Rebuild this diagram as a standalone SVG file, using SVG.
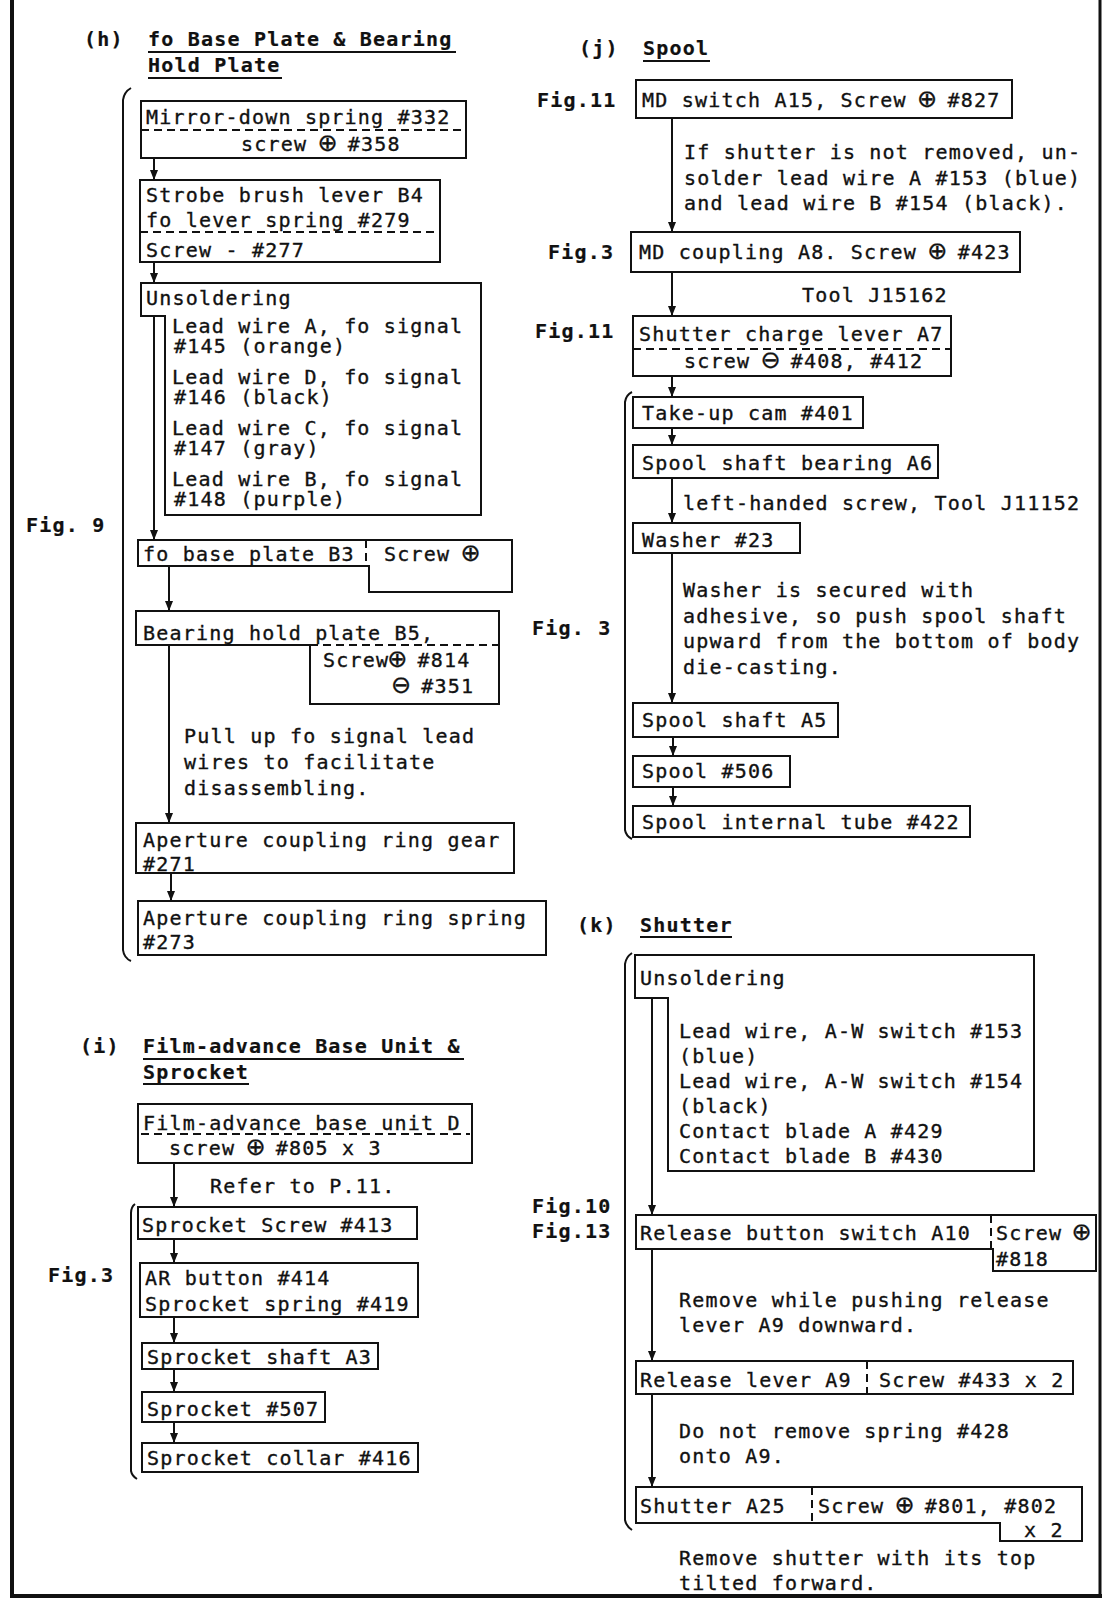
<svg xmlns="http://www.w3.org/2000/svg" width="1110" height="1605" viewBox="0 0 1110 1605">
<defs>
<style>
.t{font-family:"DejaVu Sans Mono","Liberation Mono",monospace;font-size:20px;letter-spacing:1.2px;fill:#111;stroke:#111;stroke-width:0.35}
.b{font-weight:bold;stroke-width:0.2}
.s{font-family:"DejaVu Sans","Liberation Sans",sans-serif;font-size:24px;letter-spacing:0}
.box{fill:none;stroke:#111;stroke-width:2}
.dash{fill:none;stroke:#111;stroke-width:2;stroke-dasharray:8 5}
.ul{stroke:#111;stroke-width:2}
.br{fill:none;stroke:#111;stroke-width:2}
#conn line{stroke:#111;stroke-width:2;marker-end:url(#ah)}
</style>
<marker id="ah" markerUnits="userSpaceOnUse" markerWidth="10" markerHeight="12" refX="10" refY="4" orient="auto">
<path d="M0,0 L10,4 L0,8 Z" fill="#111"/>
</marker>
</defs>
<rect x="0" y="0" width="1110" height="1605" fill="#fff"/>
<g id="border">
<line x1="12" y1="0" x2="12" y2="1598" stroke="#111" stroke-width="4"/>
<line x1="1100" y1="0" x2="1100" y2="1598" stroke="#111" stroke-width="3"/>
<line x1="10" y1="1596" x2="1102" y2="1596" stroke="#111" stroke-width="4"/>
</g>

<g id="titles">
<text class="t b" x="84" y="46">(h)</text>
<text class="t b" x="148" y="46">fo Base Plate &amp; Bearing</text>
<line class="ul" x1="148" y1="52" x2="456" y2="52"/>
<text class="t b" x="148" y="72">Hold Plate</text>
<line class="ul" x1="148" y1="78" x2="282" y2="78"/>
<text class="t b" x="26" y="532">Fig. 9</text>

<text class="t b" x="80" y="1053">(i)</text>
<text class="t b" x="143" y="1053">Film-advance Base Unit &amp;</text>
<line class="ul" x1="143" y1="1059" x2="464" y2="1059"/>
<text class="t b" x="143" y="1079">Sprocket</text>
<line class="ul" x1="143" y1="1084" x2="249" y2="1084"/>
<text class="t b" x="48" y="1282">Fig.3</text>

<text class="t b" x="579" y="55">(j)</text>
<text class="t b" x="643" y="55">Spool</text>
<line class="ul" x1="643" y1="61" x2="710" y2="61"/>
<text class="t b" x="537" y="107">Fig.11</text>
<text class="t b" x="548" y="259">Fig.3</text>
<text class="t b" x="535" y="338">Fig.11</text>
<text class="t b" x="532" y="635">Fig. 3</text>

<text class="t b" x="577" y="932">(k)</text>
<text class="t b" x="640" y="932">Shutter</text>
<line class="ul" x1="640" y1="937" x2="732" y2="937"/>
<text class="t b" x="532" y="1213">Fig.10</text>
<text class="t b" x="532" y="1238">Fig.13</text>
</g>

<g id="brackets">
<path class="br" d="M131,88 Q124,92 123,100 V950 Q124,958 131,961"/>
<path class="br" d="M135,1204 Q131,1207 131,1213 V1471 Q132,1476 137,1479"/>
<path class="br" d="M632,392 Q626,395 625,402 V830 Q626,836 632,839"/>
<path class="br" d="M632,953 Q626,957 625,964 V1520 Q626,1526 632,1530"/>
</g>

<g id="conn">
<line x1="154" y1="158" x2="154" y2="180"/>
<line x1="154" y1="262" x2="154" y2="283"/>
<line x1="154" y1="316" x2="154" y2="540"/>
<line x1="169" y1="566" x2="169" y2="611"/>
<line x1="169" y1="645" x2="169" y2="823"/>
<line x1="171" y1="873" x2="171" y2="901"/>
<line x1="174" y1="1163" x2="174" y2="1207"/>
<line x1="174" y1="1239" x2="174" y2="1263"/>
<line x1="174" y1="1317" x2="174" y2="1343"/>
<line x1="174" y1="1369" x2="174" y2="1392"/>
<line x1="174" y1="1422" x2="174" y2="1443"/>
<line x1="672" y1="118" x2="672" y2="232"/>
<line x1="672" y1="272" x2="672" y2="316"/>
<line x1="672" y1="376" x2="672" y2="397"/>
<line x1="672" y1="428" x2="672" y2="445"/>
<line x1="672" y1="478" x2="672" y2="523"/>
<line x1="672" y1="553" x2="672" y2="703"/>
<line x1="673" y1="737" x2="673" y2="756"/>
<line x1="673" y1="787" x2="673" y2="806"/>
<line x1="652" y1="998" x2="652" y2="1215"/>
<line x1="652" y1="1249" x2="652" y2="1361"/>
<line x1="652" y1="1394" x2="652" y2="1487"/>
</g>

<g id="notes">
<text class="t" x="184" y="743">Pull up fo signal lead</text>
<text class="t" x="184" y="769">wires to facilitate</text>
<text class="t" x="184" y="795">disassembling.</text>
<text class="t" x="210" y="1193">Refer to P.11.</text>
<text class="t" x="684" y="159">If shutter is not removed, un-</text>
<text class="t" x="684" y="185">solder lead wire A #153 (blue)</text>
<text class="t" x="684" y="210">and lead wire B #154 (black).</text>
<text class="t" x="802" y="302">Tool J15162</text>
<text class="t" x="683" y="510">left-handed screw, Tool J11152</text>
<text class="t" x="683" y="597">Washer is secured with</text>
<text class="t" x="683" y="623">adhesive, so push spool shaft</text>
<text class="t" x="683" y="648">upward from the bottom of body</text>
<text class="t" x="683" y="674">die-casting.</text>
<text class="t" x="679" y="1307">Remove while pushing release</text>
<text class="t" x="679" y="1332">lever A9 downward.</text>
<text class="t" x="679" y="1438">Do not remove spring #428</text>
<text class="t" x="679" y="1463">onto A9.</text>
<text class="t" x="679" y="1565">Remove shutter with its top</text>
<text class="t" x="679" y="1590">tilted forward.</text>
</g>

<g id="h-mirror">
<rect class="box" x="141" y="101" width="325" height="57"/>
<line class="dash" x1="141" y1="130" x2="466" y2="130"/>
<text class="t" x="146" y="124">Mirror-down spring #332</text>
<text class="t" x="241" y="151">screw <tspan class="s" dx="-3">⊕</tspan><tspan dx="-3"> #358</tspan></text>
</g>
<g id="h-strobe">
<rect class="box" x="140" y="180" width="300" height="82"/>
<line class="dash" x1="140" y1="232" x2="440" y2="232"/>
<text class="t" x="146" y="202">Strobe brush lever B4</text>
<text class="t" x="146" y="227">fo lever spring #279</text>
<text class="t" x="146" y="257">Screw - #277</text>
</g>
<g id="h-unsolder">
<path class="box" d="M141,283 H481 V515 H165 V316 H141 Z"/>
<text class="t" x="146" y="305">Unsoldering</text>
<text class="t" x="172" y="333">Lead wire A, fo signal</text>
<text class="t" x="174" y="353">#145 (orange)</text>
<text class="t" x="172" y="384">Lead wire D, fo signal</text>
<text class="t" x="174" y="404">#146 (black)</text>
<text class="t" x="172" y="435">Lead wire C, fo signal</text>
<text class="t" x="174" y="455">#147 (gray)</text>
<text class="t" x="172" y="486">Lead wire B, fo signal</text>
<text class="t" x="174" y="506">#148 (purple)</text>
</g>
<g id="h-fobase">
<path class="box" d="M138,540 H512 V592 H369 V566 H138 Z"/>
<line class="dash" x1="366" y1="540" x2="366" y2="566"/>
<text class="t" x="143" y="561">fo base plate B3</text>
<text class="t" x="384" y="561">Screw <tspan class="s" dx="-3">⊕</tspan></text>
</g>
<g id="h-bearing">
<path class="box" d="M136,611 H499 V704 H310 V645 H136 Z"/>
<line class="dash" x1="310" y1="645" x2="499" y2="645"/>
<text class="t" x="143" y="640">Bearing hold plate B5,</text>
<text class="t" x="323" y="667">Screw<tspan class="s" dx="-2">⊕</tspan><tspan dx="-3"> #814</tspan></text>
<text class="t" x="391" y="693"><tspan class="s">⊖</tspan><tspan dx="-3"> #351</tspan></text>
</g>
<g id="h-gear">
<rect class="box" x="136" y="823" width="378" height="50"/>
<text class="t" x="143" y="847">Aperture coupling ring gear</text>
<text class="t" x="143" y="871">#271</text>
</g>
<g id="h-spring">
<rect class="box" x="138" y="901" width="408" height="54"/>
<text class="t" x="143" y="925">Aperture coupling ring spring</text>
<text class="t" x="143" y="949">#273</text>
</g>

<g id="i-base">
<rect class="box" x="138" y="1104" width="334" height="59"/>
<line class="dash" x1="141" y1="1134" x2="470" y2="1134"/>
<text class="t" x="143" y="1130">Film-advance base unit D</text>
<text class="t" x="169" y="1155">screw <tspan class="s" dx="-3">⊕</tspan><tspan dx="-3"> #805 x 3</tspan></text>
</g>
<g id="i-screw">
<rect class="box" x="138" y="1207" width="279" height="32"/>
<text class="t" x="142" y="1232">Sprocket Screw #413</text>
</g>
<g id="i-ar">
<rect class="box" x="140" y="1263" width="278" height="54"/>
<text class="t" x="145" y="1285">AR button #414</text>
<text class="t" x="145" y="1311">Sprocket spring #419</text>
</g>
<g id="i-shaft">
<rect class="box" x="142" y="1343" width="236" height="26"/>
<text class="t" x="147" y="1364">Sprocket shaft A3</text>
</g>
<g id="i-sprocket">
<rect class="box" x="142" y="1392" width="183" height="30"/>
<text class="t" x="147" y="1416">Sprocket #507</text>
</g>
<g id="i-collar">
<rect class="box" x="142" y="1443" width="276" height="29"/>
<text class="t" x="147" y="1465">Sprocket collar #416</text>
</g>

<g id="j-md">
<rect class="box" x="636" y="80" width="376" height="38"/>
<text class="t" x="642" y="107">MD switch A15, Screw <tspan class="s" dx="-3">⊕</tspan><tspan dx="-3"> #827</tspan></text>
</g>
<g id="j-coupling">
<rect class="box" x="631" y="232" width="389" height="40"/>
<text class="t" x="639" y="259">MD coupling A8. Screw <tspan class="s" dx="-3">⊕</tspan><tspan dx="-3"> #423</tspan></text>
</g>
<g id="j-charge">
<rect class="box" x="633" y="316" width="318" height="60"/>
<line class="dash" x1="633" y1="349" x2="951" y2="349"/>
<text class="t" x="639" y="341">Shutter charge lever A7</text>
<text class="t" x="684" y="368">screw <tspan class="s" dx="-3">⊖</tspan><tspan dx="-3"> #408, #412</tspan></text>
</g>
<g id="j-cam">
<rect class="box" x="633" y="397" width="230" height="31"/>
<text class="t" x="642" y="420">Take-up cam #401</text>
</g>
<g id="j-bearing">
<rect class="box" x="633" y="445" width="305" height="33"/>
<text class="t" x="642" y="470">Spool shaft bearing A6</text>
</g>
<g id="j-washer">
<rect class="box" x="633" y="523" width="167" height="30"/>
<text class="t" x="642" y="547">Washer #23</text>
</g>
<g id="j-shaft">
<rect class="box" x="633" y="703" width="205" height="34"/>
<text class="t" x="642" y="727">Spool shaft A5</text>
</g>
<g id="j-spool">
<rect class="box" x="633" y="756" width="157" height="31"/>
<text class="t" x="642" y="778">Spool #506</text>
</g>
<g id="j-tube">
<rect class="box" x="633" y="806" width="337" height="31"/>
<text class="t" x="642" y="829">Spool internal tube #422</text>
</g>

<g id="k-unsolder">
<path class="box" d="M635,955 H1034 V1171 H668 V998 H635 Z"/>
<text class="t" x="640" y="985">Unsoldering</text>
<text class="t" x="679" y="1038">Lead wire, A-W switch #153</text>
<text class="t" x="679" y="1063">(blue)</text>
<text class="t" x="679" y="1088">Lead wire, A-W switch #154</text>
<text class="t" x="679" y="1113">(black)</text>
<text class="t" x="679" y="1138">Contact blade A #429</text>
<text class="t" x="679" y="1163">Contact blade B #430</text>
</g>
<g id="k-switch">
<path class="box" d="M636,1215 H1096 V1271 H993 V1249 H636 Z"/>
<line class="dash" x1="991" y1="1215" x2="991" y2="1249"/>
<text class="t" x="640" y="1240">Release button switch A10</text>
<text class="t" x="996" y="1240">Screw <tspan class="s" dx="-4">⊕</tspan></text>
<text class="t" x="996" y="1266">#818</text>
</g>
<g id="k-lever">
<rect class="box" x="636" y="1361" width="437" height="33"/>
<line class="dash" x1="867" y1="1361" x2="867" y2="1394"/>
<text class="t" x="640" y="1387">Release lever A9</text>
<text class="t" x="879" y="1387">Screw #433 x 2</text>
</g>
<g id="k-shutter">
<path class="box" d="M636,1487 H1082 V1541 H1000 V1523 H636 Z"/>
<line class="dash" x1="812" y1="1487" x2="812" y2="1523"/>
<text class="t" x="640" y="1513">Shutter A25</text>
<text class="t" x="818" y="1513">Screw <tspan class="s" dx="-3">⊕</tspan><tspan dx="-3"> #801, #802</tspan></text>
<text class="t" x="1024" y="1537">x 2</text>
</g>
</svg>
